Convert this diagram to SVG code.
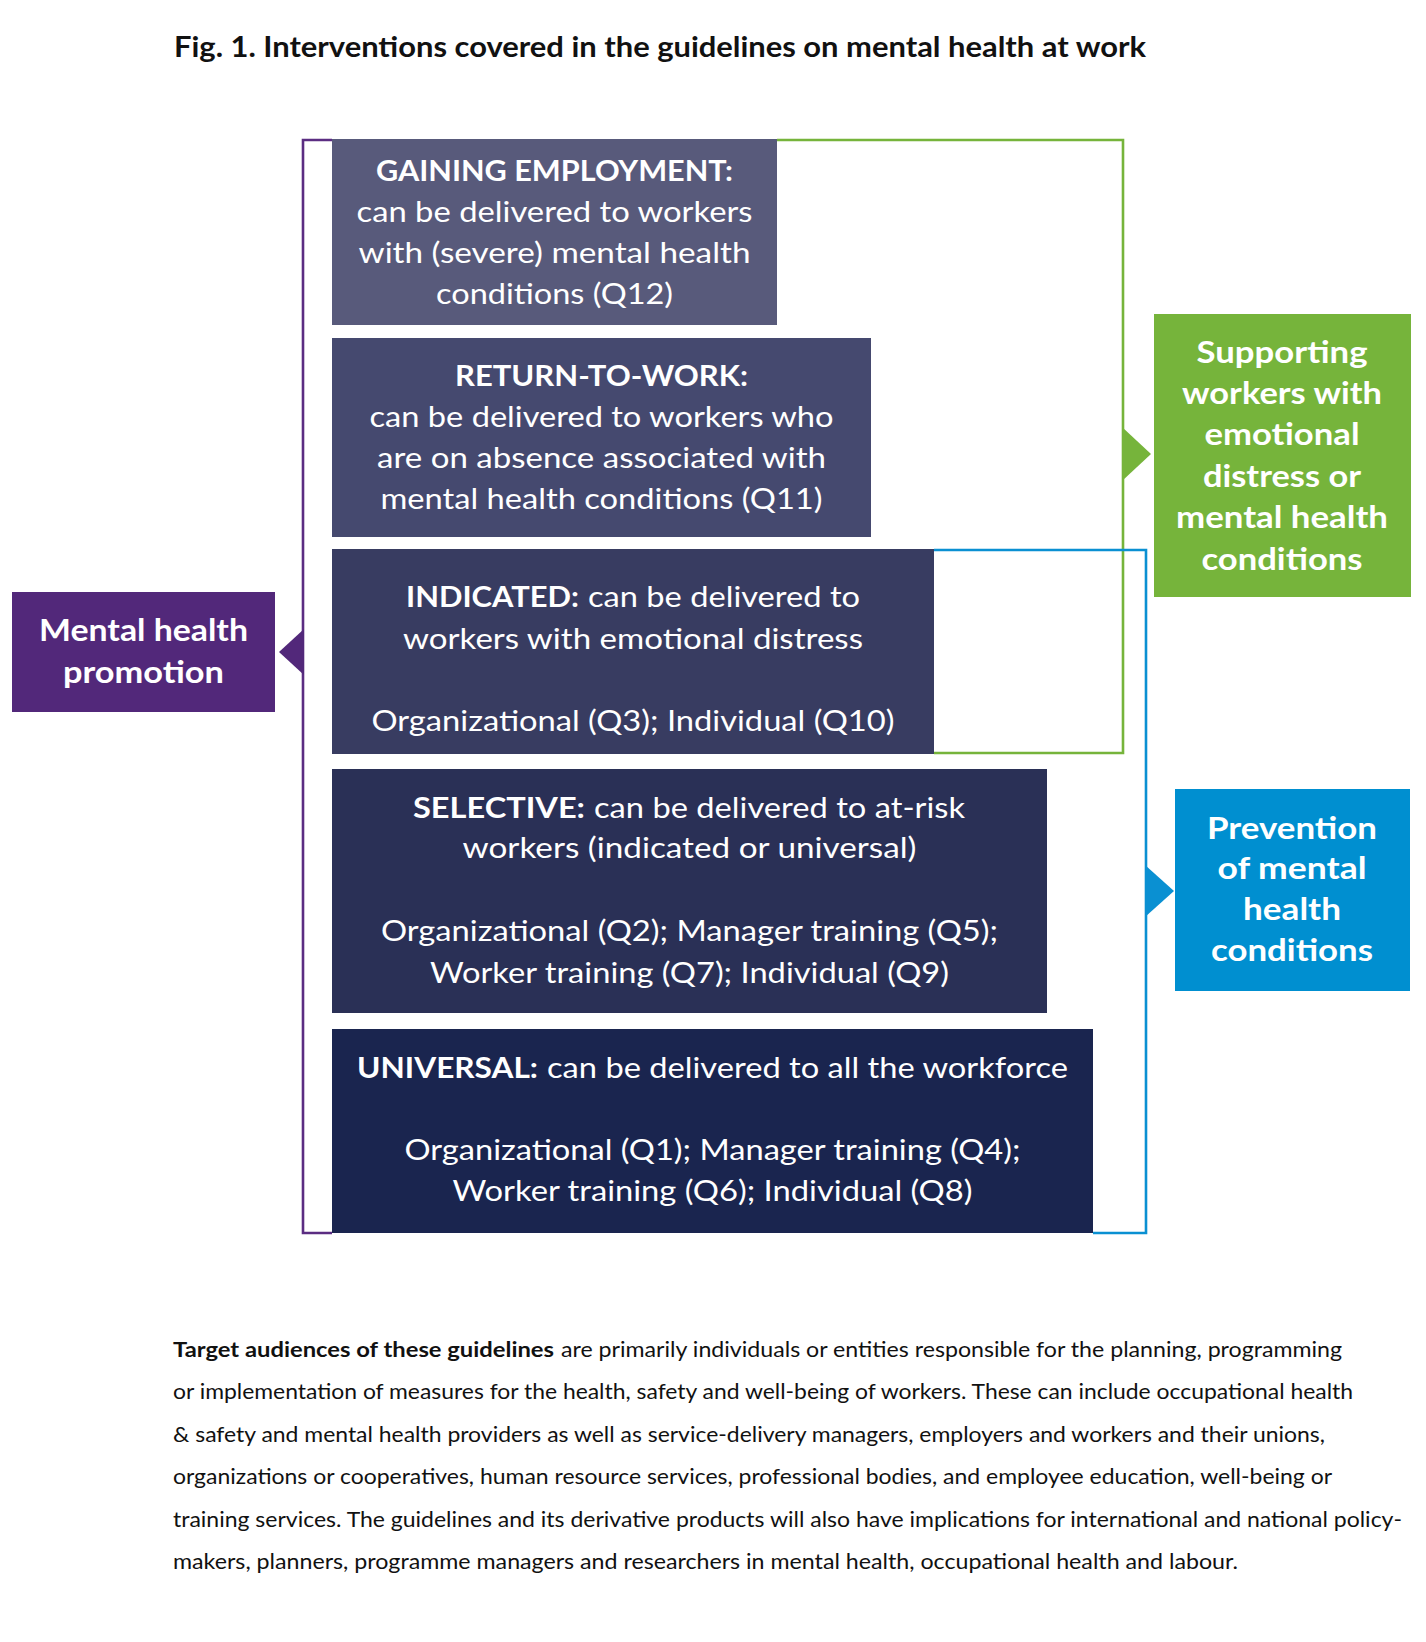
<svg xmlns="http://www.w3.org/2000/svg" width="1426" height="1642" viewBox="0 0 1426 1642">
<style>
text{font-family:Lato,"Liberation Sans",sans-serif;}
.t{font-size:28.5px;font-weight:700;fill:#111;}
.b{font-size:28px;fill:#fff;}
.bb{font-size:28px;font-weight:700;fill:#fff;}
.lab{font-size:31px;font-weight:700;fill:#fff;text-anchor:middle;}
.c{text-anchor:middle;}
.p{font-size:21px;fill:#111;}
.pb{font-size:21px;font-weight:700;fill:#111;}
.br{fill:none;stroke-width:2.6;}
</style>
<rect width="1426" height="1642" fill="#fff"/>
<text class="t" x="174" y="57" textLength="972" lengthAdjust="spacingAndGlyphs">Fig. 1. Interventions covered in the guidelines on mental health at work</text>

<g id="connectors">
<path class="br" stroke="#5B2D82" d="M332,140 H303 V1233 H332"/>
<polygon fill="#52287A" points="304,629 279,652 304,675"/>
<path class="br" stroke="#76B43B" d="M777,140 H1123 V753 H934"/>
<polygon fill="#76B43B" points="1122,427 1151,454 1122,481"/>
<path class="br" stroke="#0A90D2" d="M934,550 H1146 V1233 H1093"/>
<polygon fill="#0A90D2" points="1145,865 1174,891 1145,917"/>
</g>

<g id="gaining">
<rect x="332" y="139" width="445" height="186" fill="#585A7B"/>
<text class="bb c" x="554.5" y="181" textLength="357" lengthAdjust="spacingAndGlyphs">GAINING EMPLOYMENT:</text>
<text class="b c" x="554.5" y="222" textLength="396" lengthAdjust="spacingAndGlyphs">can be delivered to workers</text>
<text class="b c" x="554.5" y="263" textLength="392" lengthAdjust="spacingAndGlyphs">with (severe) mental health</text>
<text class="b c" x="554.5" y="304" textLength="237" lengthAdjust="spacingAndGlyphs">conditions (Q12)</text>
</g>

<g id="return">
<rect x="332" y="338" width="539" height="199" fill="#45496F"/>
<text class="bb c" x="601.5" y="386" textLength="293" lengthAdjust="spacingAndGlyphs">RETURN-TO-WORK:</text>
<text class="b c" x="601.5" y="427" textLength="464" lengthAdjust="spacingAndGlyphs">can be delivered to workers who</text>
<text class="b c" x="601.5" y="468" textLength="449" lengthAdjust="spacingAndGlyphs">are on absence associated with</text>
<text class="b c" x="601.5" y="509" textLength="442" lengthAdjust="spacingAndGlyphs">mental health conditions (Q11)</text>
</g>

<g id="indicated">
<rect x="332" y="549" width="602" height="205" fill="#383C61"/>
<text class="bb" x="406" y="607" textLength="173" lengthAdjust="spacingAndGlyphs">INDICATED:</text>
<text class="b" x="588" y="607" textLength="272" lengthAdjust="spacingAndGlyphs">can be delivered to</text>
<text class="b c" x="633" y="649" textLength="460" lengthAdjust="spacingAndGlyphs">workers with emotional distress</text>
<text class="b c" x="633" y="731" textLength="523" lengthAdjust="spacingAndGlyphs">Organizational (Q3); Individual (Q10)</text>
</g>

<g id="selective">
<rect x="332" y="769" width="715" height="244" fill="#2A3056"/>
<text class="bb" x="413" y="818" textLength="172" lengthAdjust="spacingAndGlyphs">SELECTIVE:</text>
<text class="b" x="594" y="818" textLength="371" lengthAdjust="spacingAndGlyphs">can be delivered to at-risk</text>
<text class="b c" x="689.5" y="858" textLength="454" lengthAdjust="spacingAndGlyphs">workers (indicated or universal)</text>
<text class="b c" x="689.5" y="941" textLength="617" lengthAdjust="spacingAndGlyphs">Organizational (Q2); Manager training (Q5);</text>
<text class="b c" x="689.5" y="983" textLength="519" lengthAdjust="spacingAndGlyphs">Worker training (Q7); Individual (Q9)</text>
</g>

<g id="universal">
<rect x="332" y="1029" width="761" height="204" fill="#1A254F"/>
<text class="bb" x="357" y="1078" textLength="181" lengthAdjust="spacingAndGlyphs">UNIVERSAL:</text>
<text class="b" x="547" y="1078" textLength="521" lengthAdjust="spacingAndGlyphs">can be delivered to all the workforce</text>
<text class="b c" x="712.5" y="1160" textLength="616" lengthAdjust="spacingAndGlyphs">Organizational (Q1); Manager training (Q4);</text>
<text class="b c" x="712.5" y="1201" textLength="520" lengthAdjust="spacingAndGlyphs">Worker training (Q6); Individual (Q8)</text>
</g>

<g id="promotion">
<rect x="12" y="592" width="263" height="120" fill="#52287A"/>
<text class="lab" x="143.5" y="641" textLength="209" lengthAdjust="spacingAndGlyphs">Mental health</text>
<text class="lab" x="143.5" y="683" textLength="161" lengthAdjust="spacingAndGlyphs">promotion</text>
</g>

<g id="supporting">
<rect x="1154" y="314" width="257" height="283" fill="#76B43B"/>
<text class="lab" x="1282" y="363" textLength="171" lengthAdjust="spacingAndGlyphs">Supporting</text>
<text class="lab" x="1282" y="404" textLength="200" lengthAdjust="spacingAndGlyphs">workers with</text>
<text class="lab" x="1282" y="445" textLength="155" lengthAdjust="spacingAndGlyphs">emotional</text>
<text class="lab" x="1282" y="487" textLength="158" lengthAdjust="spacingAndGlyphs">distress or</text>
<text class="lab" x="1282" y="528" textLength="212" lengthAdjust="spacingAndGlyphs">mental health</text>
<text class="lab" x="1282" y="570" textLength="161" lengthAdjust="spacingAndGlyphs">conditions</text>
</g>

<g id="prevention">
<rect x="1175" y="789" width="235" height="202" fill="#008FD0"/>
<text class="lab" x="1292" y="839" textLength="170" lengthAdjust="spacingAndGlyphs">Prevention</text>
<text class="lab" x="1292" y="879" textLength="149" lengthAdjust="spacingAndGlyphs">of mental</text>
<text class="lab" x="1292" y="920" textLength="98" lengthAdjust="spacingAndGlyphs">health</text>
<text class="lab" x="1292" y="961" textLength="162" lengthAdjust="spacingAndGlyphs">conditions</text>
</g>

<g id="paragraph">
<text class="pb" x="173" y="1357" textLength="381" lengthAdjust="spacingAndGlyphs">Target audiences of these guidelines</text>
<text class="p" x="561" y="1357" textLength="781" lengthAdjust="spacingAndGlyphs">are primarily individuals or entities responsible for the planning, programming</text>
<text class="p" x="173" y="1399" textLength="1180" lengthAdjust="spacingAndGlyphs">or implementation of measures for the health, safety and well-being of workers. These can include occupational health</text>
<text class="p" x="173" y="1442" textLength="1152" lengthAdjust="spacingAndGlyphs">&amp; safety and mental health providers as well as service-delivery managers, employers and workers and their unions,</text>
<text class="p" x="173" y="1484" textLength="1159" lengthAdjust="spacingAndGlyphs">organizations or cooperatives, human resource services, professional bodies, and employee education, well-being or</text>
<text class="p" x="173" y="1527" textLength="1229" lengthAdjust="spacingAndGlyphs">training services. The guidelines and its derivative products will also have implications for international and national policy-</text>
<text class="p" x="173" y="1569" textLength="1065" lengthAdjust="spacingAndGlyphs">makers, planners, programme managers and researchers in mental health, occupational health and labour.</text>
</g>
</svg>
